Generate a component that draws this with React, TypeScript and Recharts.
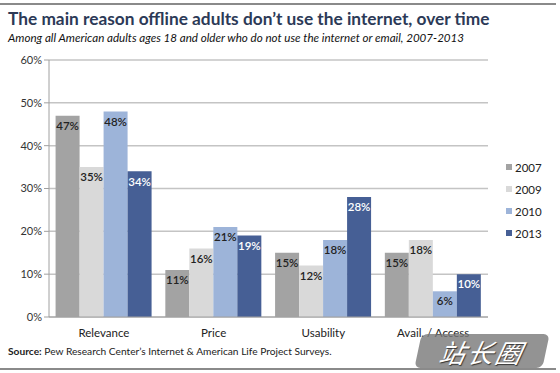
import React from "react";
import { BarChart, Bar, XAxis, YAxis, CartesianGrid, LabelList } from "recharts";

const categories = ["Relevance", "Price", "Usability", "Avail. / Access"];
const years = ["2007", "2009", "2010", "2013"];
const v2007 = [47, 11, 15, 15];
const v2009 = [35, 16, 12, 18];
const v2010 = [48, 21, 18, 6];
const v2013 = [34, 19, 28, 10];
const yTicks = [0, 10, 20, 30, 40, 50, 60];
const boundaryTicks = [0, 1, 2, 3, 4];

const colors = ["#a3a3a3", "#d9d9d9", "#9db4d9", "#465f95"];
const labelColors = ["#222222", "#222222", "#222222", "#ffffff"];

const data = categories.map((name, i) => ({
  name,
  y2007: v2007[i],
  y2009: v2009[i],
  y2010: v2010[i],
  y2013: v2013[i],
}));

const FONT = "Lato, 'Open Sans', sans-serif";

export default function App() {
  return (
    <div style={{ position: "absolute", left: 0, top: 0, width: 560, height: 373, background: "#fff", fontFamily: FONT, overflow: "hidden" }}>
      <div style={{ position: "absolute", left: 0, top: 3, width: 556, height: 2, background: "#8a8a8a" }} />
      <div style={{ position: "absolute", left: 8, top: 8, fontSize: 17.3, fontWeight: 700, color: "#2c3a57", whiteSpace: "nowrap" }}>
        The main reason offline adults don’t use the internet, over time
      </div>
      <div style={{ position: "absolute", left: 8, top: 31, fontSize: 11.6, fontStyle: "italic", color: "#111", whiteSpace: "nowrap" }}>
        Among all American adults ages 18 and older who do not use the internet or email, 2007-2013
      </div>
      <BarChart
        width={560}
        height={373}
        data={data}
        margin={{ top: 60, right: 72, bottom: 26, left: 0 }}
        barCategoryGap="6%"
        barGap={0}
        style={{ position: "absolute", left: 0, top: 0 }}
      >
        <CartesianGrid vertical={false} stroke="#c4c4c4" strokeWidth={1.5} xAxisId="cat" />
        <XAxis
          xAxisId="bnd"
          type="number"
          domain={[0, 4]}
          ticks={boundaryTicks}
          height={5}
          tick={false}
          tickSize={5}
          stroke="#a0a0a0"
        />
        <XAxis
          xAxisId="cat"
          dataKey="name"
          height={25}
          axisLine={false}
          tickLine={false}
          tick={{ fontSize: 11.5, fill: "#222", fontFamily: FONT }}
          tickMargin={1}
        />
        <YAxis
          width={49}
          domain={[0, 60]}
          ticks={yTicks}
          tickFormatter={(v) => `${v}%`}
          tickSize={5}
          stroke="#a0a0a0"
          tick={{ fontSize: 11, fill: "#333", fontFamily: FONT }}
        />
        {years.map((yr, i) => (
          <Bar key={yr} xAxisId="cat" dataKey={`y${yr}`} name={yr} fill={colors[i]} isAnimationActive={false}>
            <LabelList
              dataKey={`y${yr}`}
              position="insideTop"
              offset={6}
              formatter={(v) => `${v}%`}
              style={{ fontSize: 11.5, fill: labelColors[i], fontFamily: FONT, fontWeight: 600 }}
            />
          </Bar>
        ))}
      </BarChart>
      <div style={{ position: "absolute", left: 506, top: 156 }}>
        {years.map((yr, i) => (
          <div key={yr} style={{ display: "flex", alignItems: "center", height: 22, fontSize: 11.5, color: "#222" }}>
            <span style={{ display: "inline-block", width: 6, height: 6, background: colors[i], marginRight: 3 }} />
            {yr}
          </div>
        ))}
      </div>
      <div style={{ position: "absolute", left: 8, top: 345, fontSize: 10.2, color: "#222", whiteSpace: "nowrap" }}>
        <b>Source:</b> Pew Research Center’s Internet &amp; American Life Project Surveys.
      </div>
      <div style={{ position: "absolute", left: 0, top: 368, width: 556, height: 1.5, background: "#8a8a8a" }} />
      <div style={{ position: "absolute", left: 418, top: 334, width: 128, height: 34, background: "rgba(120,120,120,0.8)", borderRadius: 6, transform: "skewX(-12deg)", display: "flex", alignItems: "center", justifyContent: "center" }}>
        <span style={{ color: "#fff", fontSize: 26, fontStyle: "italic", fontFamily: "'Noto Sans CJK SC', sans-serif", letterSpacing: 2, textShadow: "1px 1px 1px #333" }}>
          站长圈
        </span>
      </div>
    </div>
  );
}
